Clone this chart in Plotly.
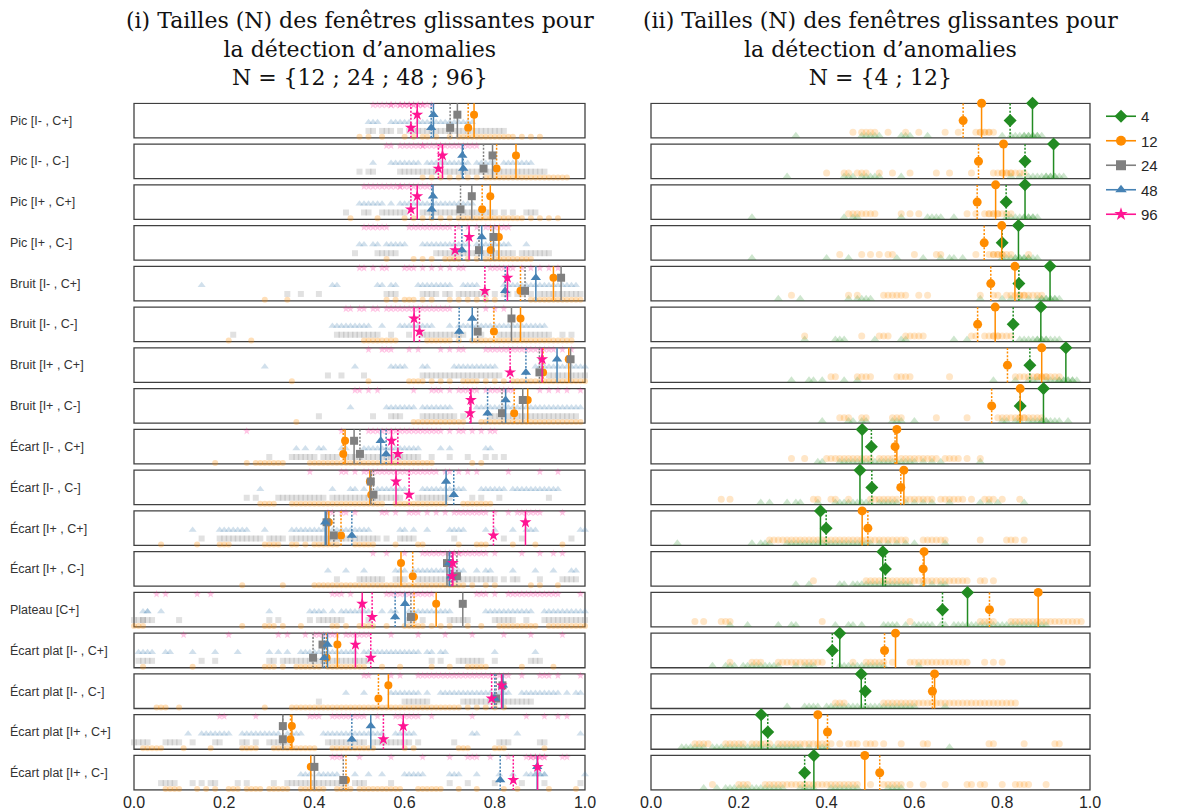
import plotly.graph_objects as go

ROWS = ["Pic [I- , C+]", "Pic [I- , C-]", "Pic [I+ , C+]", "Pic [I+ , C-]",
        "Bruit [I- , C+]", "Bruit [I- , C-]", "Bruit [I+ , C+]", "Bruit [I+ , C-]",
        "Écart [I- , C+]", "Écart [I- , C-]", "Écart [I+ , C+]", "Écart [I+ , C-]",
        "Plateau [C+]", "Écart plat [I- , C+]", "Écart plat [I- , C-]",
        "Écart plat [I+ , C+]", "Écart plat [I+ , C-]"]
X_TICKS = [0.0, 0.2, 0.4, 0.6, 0.8, 1.0]
TITLE_LEFT = "(i) Tailles (N) des fenêtres glissantes pour<br>la détection d’anomalies<br>N = {12 ; 24 ; 48 ; 96}"
TITLE_RIGHT = "(ii) Tailles (N) des fenêtres glissantes pour<br>la détection d’anomalies<br>N = {4 ; 12}"
LEGEND_NAMES = ["4", "12", "24", "48", "96"]

# ---- left panel : means (solid stems) and medians (dotted stems) ----
mean_96 = [0.628, 0.684, 0.628, 0.743, 0.828, 0.621, 0.905, 0.747, 0.571, 0.581, 0.868, 0.707, 0.506, 0.491, 0.815, 0.597, 0.895]
med_96 = [0.614, 0.675, 0.614, 0.712, 0.778, 0.633, 0.834, 0.745, 0.585, 0.610, 0.797, 0.705, 0.528, 0.525, 0.793, 0.553, 0.841]
mean_48 = [0.664, 0.728, 0.663, 0.771, 0.891, 0.750, 0.938, 0.824, 0.547, 0.692, 0.424, 0.699, 0.601, 0.429, 0.818, 0.525, 0.894]
med_48 = [0.659, 0.730, 0.660, 0.727, 0.823, 0.721, 0.869, 0.784, 0.559, 0.709, 0.483, 0.703, 0.579, 0.422, 0.800, 0.483, 0.812]
mean_24 = [0.717, 0.795, 0.749, 0.797, 0.947, 0.837, 0.968, 0.862, 0.488, 0.525, 0.427, 0.694, 0.729, 0.418, 0.817, 0.330, 0.400]
med_24 = [0.701, 0.775, 0.724, 0.765, 0.867, 0.762, 0.899, 0.816, 0.501, 0.531, 0.443, 0.716, 0.614, 0.397, 0.803, 0.330, 0.464]
mean_12 = [0.754, 0.847, 0.790, 0.809, 0.930, 0.857, 0.964, 0.873, 0.468, 0.523, 0.432, 0.592, 0.670, 0.451, 0.564, 0.350, 0.392]
med_12 = [0.741, 0.804, 0.772, 0.791, 0.857, 0.798, 0.907, 0.843, 0.464, 0.526, 0.459, 0.618, 0.621, 0.427, 0.542, 0.347, 0.470]

# ---- right panel ----
mean_4r = [0.869, 0.917, 0.852, 0.837, 0.909, 0.888, 0.945, 0.894, 0.481, 0.476, 0.386, 0.528, 0.721, 0.430, 0.479, 0.251, 0.371]
med_4r = [0.818, 0.852, 0.809, 0.800, 0.838, 0.825, 0.863, 0.841, 0.502, 0.503, 0.399, 0.534, 0.664, 0.413, 0.488, 0.266, 0.350]
mean_12r = [0.753, 0.803, 0.785, 0.799, 0.829, 0.784, 0.890, 0.841, 0.560, 0.576, 0.481, 0.622, 0.882, 0.557, 0.646, 0.380, 0.487]
med_12r = [0.711, 0.746, 0.743, 0.759, 0.774, 0.744, 0.812, 0.776, 0.556, 0.569, 0.494, 0.620, 0.771, 0.532, 0.641, 0.402, 0.521]

# ---- individual scores (percent) ----
pts_96 = [
 [53,54,55,56,57,57,58,59,59,60,60,61,61,62,62,63,63,64,64,65,66],
 [56,57,59,60,61,62,63,64,64,65,66,67,68,68,69,70,71,72,73,74,75,76],
 [51,52,53,54,55,56,57,58,59,59,60,61,62,63,64,65,66],
 [51,52,53,54,55,56,61,62,63,64,65,66,67,68,69,70,72,74,76,78,79,80,81,82,83],
 [50,51,53,55,56,60,61,62,64,66,68,70,72,73,79,80,81,82,83,84,86,88,90,92,94],
 [47,48,50,51,53,54,56,57,58,59,60,61,62,63,64,65,66,67,68,69,70,78,80,82],
 [52,55,56,57,61,63,68,70,72,73,78,79,80,81,82,83,84,85,86,87,88,89,90,91,92,93,95,97],
 [49,50,52,54,62,66,67,68,70,72,73,74,75,76,78,79,80,81,82,83,84,90,92,94,96,99],
 [25,46,52,53,54,55,56,57,58,59,60,61,62,63,64,65,66,67,68,70,72,73,75,77,79,80],
 [39,46,47,49,51,52,53,54,55,56,57,58,59,60,61,62,63,64,65,66,67,69,70,72,74,76,83,90,94],
 [43,44,46,47,49,55,56,58,61,62,63,65,67,69,71,72,73,74,75,76,77,78,80,83,85,86,87,88,89,90,95],
 [53,56,60,64,65,66,67,68,69,70,70,71,71,72,72,73,74,75,76,77,78,80,86,90,93,95],
 [5,7,14,17,44,45,46,48,56,57,58,59,60,61,62,63,64,65,66,76,77,78,80,83,84,85,86,87,88,89,90,91,92,93,94,99],
 [11,21,32,34,38,40,41,42,43,44,45,47,48,49,50,51,52,57,63,69,75,82,88,95],
 [51,52,57,59,63,64,65,66,67,68,69,70,71,72,73,74,75,76,77,78,79,80,81,82,83,86,90,91,92,94,99],
 [19,20,27,39,40,41,44,45,46,47,48,49,50,51,54,58,59,60,61,62,63,66,75,87,91,94,96],
 [44,45,46,50,57,64,70,74,75,76,79,83,87,88,88,89,89,90,90,91,91,95,96],
]
pts_48 = [
 [52,53,54,57,58,59,60,61,63,64,65,66,67,68,69,70,71,72,73,74,75],
 [53,57,58,59,60,61,62,63,65,66,67,68,69,70,71,72,73,74,76,77,78,79,80,82,83,84,85,86,87,88],
 [50,51,52,53,54,55,57,59,60,61,62,63,64,65,66,67,68,69,70,71,72,73,74,75],
 [50,51,53,54,56,57,58,59,60,64,65,66,67,68,69,70,71,72,73,74,76,77,78,79,80,81,82,83,87],
 [15,44,45,54,55,57,58,63,64,65,66,67,68,69,70,73,74,75,76,82,83,84,85,86,87,88,89,90,91,92,93,94,95,96,97,98],
 [44,45,46,47,48,49,50,51,52,55,59,60,61,62,63,64,65,66,70,72,73,74,75,76,77,78,79,80,81,82,83,84,85,86,87,88,89,90,91],
 [29,49,57,58,59,60,64,65,71,72,73,74,75,76,77,78,79,80,89,90,91,92,93,94,95,96,97,98,99,100],
 [48,56,57,58,59,60,61,62,64,65,66,67,68,69,70,76,77,78,79,80,81,82,83,84,85,86,87,88,89,90,91,92,93,94,95,96,97,98,99],
 [36,38,41,42,46,47,51,52,53,54,55,56,57,58,59,60,61,62,63,68,70,78,79],
 [28,44,48,49,51,54,55,56,57,58,59,60,64,65,66,67,68,69,70,71,72,73,77,78,79,80,81,82,84,85,86,87,88,89,90,91,92,93,94],
 [13,19,20,21,22,23,24,25,29,35,36,37,38,39,40,41,42,44,45,46,47,48,49,50,51,52,59,60,62,65,70,71,72,73,78,80,84,87,88,89,99,100],
 [43,47,51,58,59,60,62,63,64,65,66,67,68,69,70,71,72,73,76,78,79,84,89,93,97,98],
 [2,3,3,6,30,39,40,41,42,44,46,47,48,49,50,51,52,55,57,58,61,62,63,64,65,66,67,68,69,70,78,79,80,81,82,83,84,85,86,87,88,91,92,93,94,95,96,97,98,99,100],
 [1,2,3,4,7,8,13,18,23,30,32,34,37,38,39,40,41,42,43,44,45,46,47,48,49,51,52,53,54,55,56,57,58,59,60,61,62,63,65,66,68,69,80,89],
 [47,51,57,58,59,60,61,62,63,65,68,69,70,71,72,73,74,75,76,77,78,79,80,81,82,83,86,87,88,89,90,91,92,93,94,96,98,99],
 [12,15,16,17,18,19,20,21,24,25,26,27,28,29,30,31,32,34,35,36,37,42,43,44,45,46,47,48,49,50,51,52,53,54,55,58,59,60,61,62,75,76,85,99],
 [37,38,39,41,42,43,44,45,49,52,55,60,61,62,63,64,70,71,72,76,81,84,87,88,89,89,90,90,91,91,100],
]
pts_24 = [
 [52,53,55,56,57,59,61,62,63,64,65,66,67,68,69,70,71,72,73,74,75,76,77,78,79,80,81,82],
 [50,52,53,59,60,61,62,63,64,65,66,67,69,70,71,72,73,74,75,76,77,78,79,80,81,82,83,84,85,86,87,88,89,90,91],
 [47,51,52,55,56,57,58,59,60,64,65,66,67,68,69,70,71,72,73,74,75,76,77,78,79,80,82,84,87,88,89],
 [49,54,55,56,57,58,67,68,69,70,71,72,73,74,75,76,77,78,79,80,81,82,83,84,86,87,88,89,90,91,92],
 [34,37,41,56,57,58,64,65,66,67,69,70,72,73,74,75,76,77,78,80,82,83,85,86,88,90,91,92,93,94,95,96,97,98,99],
 [22,45,46,47,48,49,50,51,52,53,54,57,61,64,65,66,67,68,69,70,71,72,73,77,81,82,83,84,85,86,87,88,89,90,91,92,95,97],
 [43,46,51,64,65,66,67,68,69,70,71,72,73,74,75,76,77,78,79,80,81,92,93,94,95,96,97,98,99,100],
 [41,53,57,58,59,64,65,66,67,68,69,70,71,73,79,80,81,82,83,84,85,86,87,88,89,90,91,92,93,94,95,96,97,98],
 [30,35,36,37,38,39,40,42,43,44,45,47,48,49,50,51,52,53,54,55,56,57,58,59,60,61,62,63,66,70,74,78,80,82],
 [25,27,32,33,34,35,36,37,38,39,40,41,42,44,45,46,47,48,49,50,51,52,53,54,55,56,57,58,59,63,64,65,66,67,68,69,70,75,77,81,92],
 [15,19,20,21,22,23,24,25,26,27,28,30,31,32,33,35,36,37,38,39,40,41,42,43,44,45,46,47,48,49,50,51,52,53,54,56,59,60,61,62,71,82,86,97],
 [45,50,51,52,53,54,55,58,59,60,63,64,65,66,67,68,69,70,71,72,73,74,75,76,77,78,79,80,82,84,85,90,95,96,97,98],
 [0,1,2,2,3,4,10,30,32,39,41,42,43,44,45,46,52,61,62,64,70,71,72,73,74,80,81,82,83,84,87,91,92,93,94,95,96,97,98,99,100],
 [1,2,3,4,15,18,30,31,33,34,35,36,37,38,39,40,41,42,43,44,45,46,47,48,49,50,51,52,66,68,72,73,74,75,76,77,80,88,89,90],
 [41,60,61,62,63,64,65,73,74,75,76,77,78,79,80,81,82,83,84,85,86,87,88],
 [0,1,2,3,7,8,9,10,13,18,19,24,25,27,30,31,32,33,34,43,44,45,46,47,48,49,50,51,53,54,55,56,57,58,59,60,61,63,71,81,82,83,90,91],
 [6,7,8,9,13,15,17,18,23,25,31,34,35,36,37,38,39,40,41,42,43,44,45,46,47,49,50,51,57,70,74,80,86,91,99],
]
pts_12 = [
 [50,52,55,60,62,64,65,67,70,72,73,74,75,76,77,78,79,80,81,82,83,84,86,88,90],
 [64,66,68,70,72,74,76,78,79,80,81,82,83,84,85,86,87,88,89,90,91,92,93,94,95,96],
 [48,54,60,62,64,66,68,70,72,73,74,75,76,77,78,79,80,81,82,83,84,85,86,88,90,92,94],
 [56,62,64,66,69,70,71,72,74,76,78,79,80,81,82,83,84,85,86,87,88],
 [29,34,56,58,60,61,62,64,66,70,72,74,76,78,80,88,89,90,91,92,93,94,95,96,97,98,99],
 [21,26,51,52,53,54,55,56,57,58,65,66,67,68,69,70,72,75,76,77,78,79,80,81,82,83,84,85,86,87,88,89,90,91,92,93,94,95,96,97],
 [35,52,61,62,63,64,66,68,70,73,74,75,76,78,80,82,84,85,86,87,88,89,90,91,92,93,94,95,96,97,98,99,100],
 [36,62,63,64,65,66,67,68,69,70,71,72,73,77,78,79,80,81,82,83,84,85,86,87,88,89,90,91,92,93,94,95,96,97,98,99],
 [18,25,27,28,29,30,31,32,33,39,40,41,42,43,44,45,46,47,48,49,50,51,52,53,54,55,56,57,58,59,60,61,62,63,64,65,66,75,77],
 [28,29,30,31,35,36,37,38,39,40,41,42,43,44,45,46,47,48,49,50,51,52,53,54,55,58,59,60,61,62,63,64,65,66,67,68,69,73,74,75,76,77,78,79],
 [6,14,19,20,21,29,30,31,32,35,36,38,40,41,42,43,44,45,49,50,51,52,53,58,63,64,72,76,77,78,84,89,95],
 [24,33,40,41,42,43,44,45,46,47,48,49,50,51,52,53,54,55,56,57,58,59,60,61,62,63,64,65,66,67,68,69,70,71,72,73,75,78,80,88,90,94],
 [0,1,2,24,29,30,31,33,37,44,45,47,50,51,52,53,56,60,61,62,63,64,66,68,70,74,77,81,82,83,84,85,86,87,88,89,92,93,94,95,96,97,98,99,100],
 [2,13,29,30,31,33,36,37,38,39,40,41,43,44,45,46,47,48,49,50,51,55,59,66,70,74,75,76,77,78,86,93],
 [5,6,7,10,29,35,36,37,38,39,40,41,42,43,44,45,46,47,48,49,50,51,52,53,54,55,56,57,58,59,60,61,62,63,64,65,66,67,68,69,70,71,72,74,76,78,80,82],
 [2,3,4,5,6,11,17,24,25,26,27,31,32,33,34,35,36,37,38,39,40,44,45,46,47,48,49,50,51,52,53,60,62,72,73,74,80,81,82,91],
 [7,8,9,10,14,16,18,21,22,23,25,26,27,28,30,31,32,33,34,37,38,39,40,41,42,45,46,47,48,50,51,52,53,54,55,56,57,58,59,63,64,65,66,67,68,72,76,82,85,92,98],
]
pts_4r = [
 [33,48,49,50,51,52,57,58,59,63,80,82,83,84,85,85,86,86,87,87,88,88,89],
 [31,44,45,46,48,49,50,51,52,57,82,84,86,87,88,89,90,90,91,91,92,92,93,94],
 [23,44,46,47,57,63,64,65,66,69,81,82,83,84,85,85,86,86,87,87,88],
 [23,40,45,56,62,66,68,69,71,80,81,82,83,83,84,84,85,85,86,86,87,88],
 [29,34,45,47,48,49,50,75,80,82,84,86,88,89,89,90,90,91,91,92,92,93],
 [35,42,43,44,51,57,58,69,72,84,85,86,87,88,88,89,89,90,90,91,92,93],
 [32,36,37,39,44,47,78,83,86,87,88,90,91,92,93,93,94,94,95,95,96,96,97],
 [39,45,46,48,49,55,56,57,60,80,81,83,84,86,87,88,89,89,90,90,91,92,93,95],
 [38,39,43,44,45,46,47,48,49,50,51,52,53,54,55,56,57,58,59,60,62,64,66,75],
 [25,27,31,33,34,38,42,43,44,45,46,47,48,49,50,52,53,54,55,56,58,60,62,64,68,75,77,79,85],
 [6,23,25,26,27,31,32,33,34,35,36,37,38,39,40,41,42,43,44,45,46,47,48,49,50,52,54,56,58,60,67],
 [33,36,43,44,46,47,48,49,50,51,52,53,54,55,56,57,58,59,62,64,66,67],
 [18,22,29,32,33,42,45,46,48,53,54,55,56,58,60,61,62,63,64,66,67,69,70,71,72,73,74,75,76,77,78,79,80,81,82,83,84,85,86,87,88,89,90],
 [14,17,18,19,21,22,23,24,25,26,27,28,29,33,35,36,37,43,44,45,46,47,48,49,50,51,52,53,61],
 [31,35,36,37,38,40,41,42,43,44,45,46,47,48,49,50,51,52,53,54,55,56,57,58,59,60,67],
 [7,8,9,10,11,12,14,15,16,17,18,19,20,21,22,23,24,25,26,27,28,29,30,31,32,33,34,36,38,39,40,68],
 [12,15,17,18,19,20,21,22,23,24,25,26,27,28,29,30,34,35,36,37,41,42,43,44,45,46,47,54,55,56,57],
]
pts_12r = [
 [46,48,49,50,51,54,58,61,67,70,74,75,75,76,76,77,77,78],
 [40,44,45,47,48,49,52,55,59,65,68,73,78,79,80,80,81,81,82,82,83,84,85],
 [45,46,47,48,49,50,51,57,59,61,72,74,76,77,77,78,78,79,79,80,81,82],
 [43,48,50,52,54,55,60,65,66,74,77,78,78,79,79,80,80,81,82,86],
 [32,45,47,53,54,55,56,57,58,61,63,75,78,79,81,82,83,84,84,85,85,86,87,88,89],
 [35,48,52,53,54,58,59,60,61,62,73,74,76,77,78,78,79,79,80,81,82],
 [41,42,47,48,49,50,56,57,58,59,68,83,84,85,86,87,88,88,89,89,90,90,91,92,93],
 [43,44,45,48,49,55,56,57,65,72,79,80,81,82,83,84,84,85,85,86,87,88,89],
 [32,35,40,41,42,43,44,45,46,47,48,49,50,52,53,54,55,57,58,59,60,61,62,63,64,65,67,68,69,70,72,75],
 [16,18,37,38,41,42,45,50,51,52,53,54,55,56,58,59,60,61,62,63,64,66,67,68,69,70,71,73,76,77,78,80,84],
 [27,28,29,30,31,32,33,34,35,36,37,38,39,40,41,42,43,44,45,46,47,48,49,50,51,52,53,54,55,56,57,58,62,63,64,65,66,67,75,81,82,83,85],
 [37,49,50,51,52,53,54,55,56,57,58,59,60,61,62,63,64,65,66,67,68,69,70,71,72,75,76,78],
 [10,12,16,17,18,39,59,75,76,77,78,82,83,84,85,86,87,88,89,90,91,92,93,94,95,96,97,98],
 [18,23,24,25,29,30,31,32,33,34,35,36,37,38,39,46,49,50,51,52,53,55,59,60,61,62,63,64,65,66,67,68,69,70,71,72,76,78,80],
 [42,43,44,53,54,55,56,57,58,59,60,61,62,63,64,65,66,67,68,69,70,71,72,73,74,75,76,77,78,79,80,81,82,83],
 [10,11,12,13,17,18,19,20,21,23,24,25,26,27,29,30,31,32,33,34,35,36,37,38,39,40,41,43,45,46,47,49,50,51,53,57,62,63,77,78,85,92,93],
 [14,20,21,22,26,27,28,29,30,31,32,33,34,35,36,37,38,39,40,41,42,43,44,45,46,47,50,53,54,55,56,57,59,62,67,72,73,75,76,80,83,84,85,86,90],
]

C4, C12, C24, C48, C96 = "#228B22", "#FF8C00", "#808080", "#4682B4", "#FF1493"

W, H = 1177, 810
PITCH = 1.18
N = len(ROWS)
DOT = "2px,1.6px"


def base(i):
    return (N - 1 - i) * PITCH


fig = go.Figure()


def add_points(rows, level, color, symbol, size, opacity, xa, ya):
    xs, ys = [], []
    for i, row in enumerate(rows):
        for v in row:
            xs.append(v / 100.0)
            ys.append(base(i) + level)
    fig.add_trace(go.Scatter(
        x=xs, y=ys, mode="markers", xaxis=xa, yaxis=ya, cliponaxis=False,
        marker=dict(symbol=symbol, size=size, color=color, opacity=opacity, line=dict(width=0)),
        showlegend=False, hoverinfo="skip"))


def add_stems(values, level, color, symbol, msize, dash, xa, ya):
    lx, ly = [], []
    for i, v in enumerate(values):
        lx += [v, v, None]
        ly += [base(i), base(i) + 1, None]
    fig.add_trace(go.Scatter(
        x=lx, y=ly, mode="lines", xaxis=xa, yaxis=ya,
        line=dict(color=color, width=1.5, dash=dash), showlegend=False, hoverinfo="skip"))
    fig.add_trace(go.Scatter(
        x=values, y=[base(i) + level for i in range(len(values))], mode="markers",
        xaxis=xa, yaxis=ya, cliponaxis=False,
        marker=dict(symbol=symbol, size=msize, color=color, line=dict(width=0)),
        showlegend=False, hoverinfo="skip"))


# left panel points
add_points(pts_12, 0.03, C12, "circle", 6, 0.28, "x", "y")
add_points(pts_24, 0.20, C24, "square", 6, 0.24, "x", "y")
add_points(pts_48, 0.45, C48, "triangle-up", 7, 0.25, "x", "y")
add_points(pts_96, 0.95, C96, "star", 6, 0.25, "x", "y")
# left stems
for mean, med, col, sym, ms in [(mean_12, med_12, C12, "circle", 8),
                                (mean_24, med_24, C24, "square", 8),
                                (mean_48, med_48, C48, "triangle-up", 9),
                                (mean_96, med_96, C96, "star", 9)]:
    add_stems(med, 0.29, col, sym, ms, DOT, "x", "y")
    add_stems(mean, 0.67, col, sym, ms, "solid", "x", "y")

# right panel points
add_points(pts_4r, 0.06, C4, "triangle-up", 8, 0.22, "x2", "y2")
add_points(pts_12r, 0.16, C12, "circle", 7, 0.22, "x2", "y2")
for mean, med, col, sym, ms in [(mean_4r, med_4r, C4, "diamond", 10),
                                (mean_12r, med_12r, C12, "circle", 9)]:
    add_stems(med, 0.5, col, sym, ms, DOT, "x2", "y2")
    add_stems(mean, 1.0, col, sym, ms, "solid", "x2", "y2")

# legend entries
for name, col, sym in zip(LEGEND_NAMES, [C4, C12, C24, C48, C96],
                          ["diamond", "circle", "square", "triangle-up", "star"]):
    fig.add_trace(go.Scatter(
        x=[None], y=[None], mode="lines+markers", name=name, xaxis="x2", yaxis="y2",
        legendgroup=name, line=dict(color=col, width=1.6),
        marker=dict(symbol=sym, size=10, color=col)))

# row frames
shapes = []
for xr, yr in [("x", "y"), ("x2", "y2")]:
    for i in range(N):
        shapes.append(dict(type="rect", xref=xr, yref=yr, x0=0, x1=1,
                           y0=base(i), y1=base(i) + 1, layer="below",
                           line=dict(color="#404040", width=1.3)))

annotations = []
for i, lab in enumerate(ROWS):
    annotations.append(dict(text=lab, xref="paper", yref="y", x=8 / W, y=base(i) + 0.5,
                            xanchor="left", yanchor="middle", showarrow=False,
                            font=dict(family="Liberation Sans, Arial, sans-serif", size=12.5, color="#333333")))
annotations.append(dict(text=TITLE_LEFT, xref="paper", yref="paper", x=360 / W, y=1 - 49 / H,
                        xanchor="center", yanchor="middle", showarrow=False,
                        font=dict(family="DejaVu Serif", size=22, color="#111111")))
annotations.append(dict(text=TITLE_RIGHT, xref="paper", yref="paper", x=880 / W, y=1 - 49 / H,
                        xanchor="center", yanchor="middle", showarrow=False,
                        font=dict(family="DejaVu Serif", size=22, color="#111111")))

y_range = [-0.02, (N - 1) * PITCH + 1 + 0.02]
ydom = [1 - 790.7 / H, 1 - 102.6 / H]
xcommon = dict(range=[-0.003, 1.003], tickvals=X_TICKS, ticktext=[f"{t:.1f}" for t in X_TICKS],
               showgrid=False, zeroline=False, showline=False, ticks="", automargin=False,
               tickfont=dict(family="Liberation Sans, Arial, sans-serif", size=16, color="#262626"))
ycommon = dict(range=y_range, domain=ydom, showgrid=False, zeroline=False, showline=False,
               showticklabels=False, ticks="", automargin=False)

fig.update_layout(
    width=W, height=H, margin=dict(l=0, r=0, t=0, b=0, pad=0, autoexpand=False),
    paper_bgcolor="white", plot_bgcolor="white",
    xaxis=dict(domain=[132.65 / W, 586.35 / W], anchor="y", **xcommon),
    yaxis=dict(anchor="x", **ycommon),
    xaxis2=dict(domain=[649.68 / W, 1091.32 / W], anchor="y2", **xcommon),
    yaxis2=dict(anchor="x2", **ycommon),
    shapes=shapes, annotations=annotations,
    legend=dict(x=1101 / W, y=1 - 100 / H, xanchor="left", yanchor="top",
                font=dict(family="Liberation Sans, Arial, sans-serif", size=15, color="#262626"),
                bgcolor="rgba(0,0,0,0)", tracegroupgap=2),
)

fig.write_html("out.html", config={"displayModeBar": False},
               post_script="document.body.style.margin='0';document.body.style.overflow='hidden';")
